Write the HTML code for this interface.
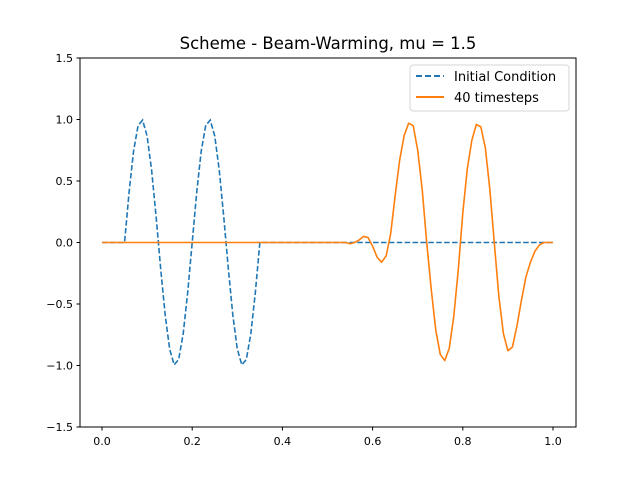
<!DOCTYPE html>
<html><head><meta charset="utf-8"><style>
body{margin:0;background:#fff;}
svg text{font-family:"DejaVu Sans","Liberation Sans",sans-serif;}
</style></head><body>
<svg id="chart" width="640" height="480">
<rect width="640" height="480" fill="#fff"/>
<text x="328" y="49" font-size="16.5" text-anchor="middle">Scheme - Beam-Warming, mu = 1.5</text>
<g id="ticks"></g>
<g id="plot"></g>
<rect x="80" y="58" width="496" height="369" fill="none" stroke="#000" stroke-width="1"/>
<g>
<rect x="410" y="65" width="159" height="46" rx="3" fill="#fff" stroke="#ccc" stroke-opacity="0.8"/>
<line x1="416" y1="76" x2="444" y2="76" stroke="#1f77b4" stroke-width="2" stroke-dasharray="6,3"/>
<text x="454" y="81" font-size="13">Initial Condition</text>
<line x1="416" y1="97" x2="444" y2="97" stroke="#ff7f0e" stroke-width="2"/>
<text x="454" y="102" font-size="13">40 timesteps</text>
</g>
</svg>
<script>
const xTicks=[0.0,0.2,0.4,0.6,0.8,1.0];
const xTickLabels=["0.0","0.2","0.4","0.6","0.8","1.0"];
const yTicks=[-1.5,-1.0,-0.5,0.0,0.5,1.0,1.5];
const yTickLabels=["\u22121.5","\u22121.0","\u22120.5","0.0","0.5","1.0","1.5"];
const initialValues=[0,0,0,0,0,
0,0.407,0.743,0.951,0.995,
0.866,0.588,0.208,-0.208,-0.588,
-0.866,-0.995,-0.951,-0.743,-0.407,
0,0.407,0.743,0.951,0.995,
0.866,0.588,0.208,-0.208,-0.588,
-0.866,-0.995,-0.951,-0.743,-0.407,
0,0,0,0,0,
0,0,0,0,0,
0,0,0,0,0,
0,0,0,0,0,
0,0,0,0,0,
0,0,0,0,0,
0,0,0,0,0,
0,0,0,0,0,
0,0,0,0,0,
0,0,0,0,0,
0,0,0,0,0,
0,0,0,0,0,
0,0,0,0,0,0];
const stepValues=[0,0,0,0,0,0,0,0,0,0,0,0,0,0,0,0,0,0,0,0,0,0,0,0,0,0,0,0,0,0,0,0,0,0,0,0,0,0,0,0,0,0,0,0,0,0,0,0,0,0,0,0,0,0,0,
-0.01,0,0.02,0.05,0.04,-0.03,-0.12,-0.16,-0.11,0.07,0.38,0.67,0.87,0.97,0.95,0.75,0.43,0,-0.38,-0.71,-0.91,-0.96,-0.86,-0.6,-0.22,
0.24,0.60,0.83,0.96,0.94,0.77,0.43,-0.01,-0.44,-0.74,-0.88,-0.85,-0.68,-0.47,-0.28,-0.16,-0.07,-0.02,0,0,0];
const NS="http://www.w3.org/2000/svg";
const X=v=>102+v*451, Y=v=>242.5-v*123;
const tg=document.getElementById('ticks'), pg=document.getElementById('plot');
function mk(t,a,p){const e=document.createElementNS(NS,t);for(const k in a)e.setAttribute(k,a[k]);p.appendChild(e);return e;}
xTicks.forEach((v,i)=>{
 const l=mk('line',{x1:X(v),x2:X(v),y1:427,y2:430.5,stroke:'#000'},tg);
 
 
 const t=mk('text',{x:X(v),y:445,'font-size':11,'text-anchor':'middle'},tg);t.textContent=xTickLabels[i];
 
 
});
yTicks.forEach((v,i)=>{
 const l=mk('line',{x1:76.5,x2:80,y1:Y(v),y2:Y(v),stroke:'#000'},tg);
 
 
 const t=mk('text',{x:73,y:Y(v)+4,'font-size':11,'text-anchor':'end'},tg);t.textContent=yTickLabels[i];
 
 
});
function pts(a){return a.map((v,i)=>X(i*0.01).toFixed(2)+','+Y(v).toFixed(2)).join(' ');}
const l1=mk('polyline',{points:pts(initialValues),fill:'none',stroke:'#1f77b4','stroke-width':1.6,'stroke-dasharray':'5.5,2.4'},pg);


const l2=mk('polyline',{points:pts(stepValues),fill:'none',stroke:'#ff7f0e','stroke-width':1.6,'stroke-linejoin':'round'},pg);


</script>
</body></html>
